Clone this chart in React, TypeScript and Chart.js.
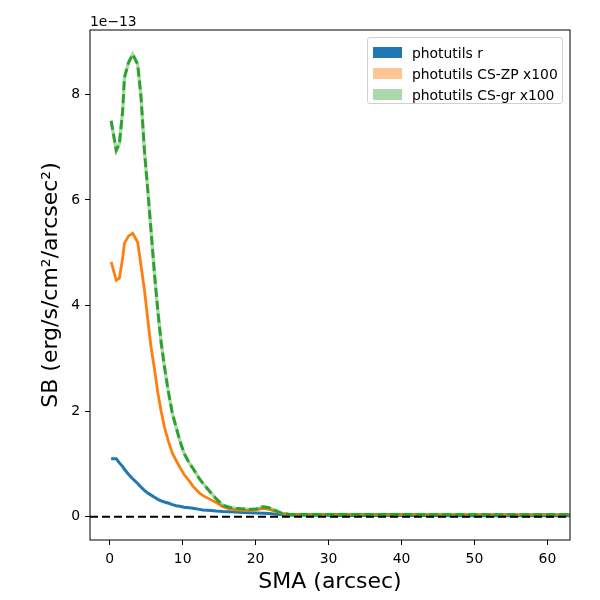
import { useEffect, useRef } from 'react';
import Chart from 'chart.js/auto';

// SMA samples (arcsec) shared by all three profiles
const SMA = [
  0.2, 0.9, 1.33, 1.78, 2.02, 2.6, 3.15, 3.84, 4.3, 4.76, 5.21, 5.68, 6.14, 6.6, 7.05, 7.5, 8.0,
  8.6, 9.1, 9.6, 10.2, 10.9, 11.4, 12.3, 12.8, 13.9, 14.6, 15.5, 16.4, 17.3, 18.3, 19.3, 20.1,
  21.0, 21.9, 22.7, 23.7, 24.5, 25.5, 27, 29, 31, 34, 37, 40, 44, 48, 52, 56, 60, 63.5
];

// surface brightness, units of 1e-13
const SB_R = [
  1.1, 1.1, 1.02, 0.95, 0.9, 0.8, 0.72, 0.63, 0.56, 0.5, 0.45, 0.41, 0.37, 0.33, 0.3, 0.28, 0.26,
  0.23, 0.21, 0.2, 0.18, 0.17, 0.16, 0.14, 0.13, 0.12, 0.11, 0.1, 0.095, 0.09, 0.08, 0.075, 0.07,
  0.065, 0.06, 0.05, 0.04, 0.035, 0.03, 0.03, 0.028, 0.026, 0.025, 0.024, 0.023, 0.022, 0.021,
  0.02, 0.02, 0.02, 0.02
];

const SB_ZP = [
  4.83, 4.48, 4.52, 4.9, 5.18, 5.32, 5.37, 5.2, 4.75, 4.3, 3.75, 3.2, 2.8, 2.35, 2.0, 1.7, 1.45,
  1.2, 1.07, 0.94, 0.8, 0.68, 0.58, 0.45, 0.4, 0.32, 0.27, 0.19, 0.15, 0.13, 0.12, 0.12, 0.13,
  0.16, 0.14, 0.1, 0.06, 0.05, 0.045, 0.045, 0.045, 0.044, 0.044, 0.043, 0.043, 0.042, 0.042,
  0.041, 0.041, 0.04, 0.04
];

const SB_GR = [
  7.5, 6.94, 7.07, 7.69, 8.32, 8.61, 8.76, 8.57, 7.94, 6.94, 6.2, 5.4, 4.6, 3.9, 3.3, 2.85, 2.4,
  1.95, 1.7, 1.45, 1.2, 1.02, 0.92, 0.72, 0.63, 0.45, 0.34, 0.22, 0.18, 0.16, 0.15, 0.14, 0.15,
  0.19, 0.17, 0.12, 0.06, 0.05, 0.045, 0.045, 0.045, 0.044, 0.044, 0.043, 0.043, 0.042, 0.042,
  0.041, 0.041, 0.04, 0.04
];

const X_TICKS = [0, 10, 20, 30, 40, 50, 60];
const Y_TICKS = [0, 2, 4, 6, 8];
const X_MIN = -2.7;
const X_MAX = 63.1;
const Y_MIN = -0.44;
const Y_MAX = 9.22;

const BLUE = '#1f77b4';
const ORANGE = '#ff7f0e';
const GREEN = '#2ca02c';
const FONT = "'DejaVu Sans', sans-serif";

const pts = (ys: number[]) => SMA.map((x, i) => ({ x, y: ys[i] }));

const frame = {
  id: 'frame',
  afterDraw(chart: any) {
    const { ctx, chartArea: a } = chart;
    ctx.save();
    ctx.strokeStyle = '#000';
    ctx.lineWidth = 1;
    ctx.strokeRect(a.left, a.top, a.right - a.left, a.bottom - a.top);
    ctx.restore();
  }
};

export default function App() {
  const canvasRef = useRef<HTMLCanvasElement | null>(null);

  useEffect(() => {
    document.body.style.margin = '0';
    let chart: Chart | null = null;
    if (canvasRef.current) {
      chart = new Chart(canvasRef.current, {
        type: 'line',
        data: {
          datasets: [
            {
              data: [{ x: X_MIN, y: 0 }, { x: X_MAX, y: 0 }],
              borderColor: '#000',
              borderWidth: 2,
              borderDash: [8, 4],
              order: 0
            },
            {
              data: pts(SB_GR),
              borderColor: GREEN,
              borderWidth: 2.8,
              borderDash: [9, 4],
              order: 1
            },
            {
              data: pts(SB_GR),
              borderColor: 'rgba(44,160,44,0.4)',
              borderWidth: 3.4,
              order: 2
            },
            {
              data: pts(SB_ZP),
              borderColor: ORANGE,
              borderWidth: 2.8,
              order: 3
            },
            {
              data: pts(SB_R),
              borderColor: BLUE,
              borderWidth: 3,
              order: 4
            }
          ]
        },
        options: {
          responsive: false,
          animation: false,
          events: [],
          layout: { padding: { top: 30, right: 30, left: 0, bottom: 0 } },
          elements: { point: { radius: 0 }, line: { tension: 0, borderCapStyle: 'butt' } },
          plugins: { legend: { display: false }, tooltip: { enabled: false } },
          scales: {
            x: {
              type: 'linear',
              min: X_MIN,
              max: X_MAX,
              afterFit: (s: any) => {
                s.height = 60;
              },
              afterBuildTicks: (s: any) => {
                s.ticks = X_TICKS.map((v) => ({ value: v }));
              },
              grid: { drawOnChartArea: false, drawTicks: true, tickLength: 5, color: '#000' },
              border: { display: false },
              ticks: {
                color: '#000',
                font: { family: FONT, size: 13.9 },
                padding: 6,
                maxRotation: 0
              },
              title: {
                display: true,
                text: 'SMA (arcsec)',
                color: '#000',
                font: { family: FONT, size: 22 },
                padding: { top: 0, bottom: 5 }
              }
            },
            y: {
              type: 'linear',
              min: Y_MIN,
              max: Y_MAX,
              afterFit: (s: any) => {
                s.width = 90;
              },
              afterBuildTicks: (s: any) => {
                s.ticks = Y_TICKS.map((v) => ({ value: v }));
              },
              grid: { drawOnChartArea: false, drawTicks: true, tickLength: 5, color: '#000' },
              border: { display: false },
              ticks: {
                color: '#000',
                font: { family: FONT, size: 13.9 },
                padding: 5
              },
              title: {
                display: true,
                text: 'SB (erg/s/cm²/arcsec²)',
                color: '#000',
                font: { family: FONT, size: 22 },
                padding: { top: 38, bottom: 0 }
              }
            }
          }
        },
        plugins: [frame]
      });
    }
    return () => {
      if (chart) chart.destroy();
    };
  }, []);

  const legendItems = [
    { label: 'photutils r', color: BLUE },
    { label: 'photutils CS-ZP x100', color: 'rgba(255,127,14,0.45)' },
    { label: 'photutils CS-gr x100', color: 'rgba(44,160,44,0.4)' }
  ];

  return (
    <div style={{ position: 'absolute', left: 0, top: 0, width: 600, height: 600, background: '#fff' }}>
      <canvas ref={canvasRef} width={600} height={600}></canvas>
      <div
        style={{
          position: 'absolute',
          left: 90,
          top: 13,
          fontFamily: FONT,
          fontSize: 13.9,
          color: '#000'
        }}
      >
        1e−13
      </div>
      <div
        style={{
          position: 'absolute',
          left: 367,
          top: 37,
          width: 196,
          height: 67,
          boxSizing: 'border-box',
          border: '1px solid #d0d0d0',
          borderRadius: 3,
          background: 'rgba(255,255,255,0.8)',
          fontFamily: FONT,
          fontSize: 13.9,
          color: '#000',
          paddingTop: 4
        }}
      >
        {legendItems.map((it) => (
          <div key={it.label} style={{ display: 'flex', alignItems: 'center', height: 21 }}>
            <span
              style={{
                display: 'inline-block',
                width: 29,
                height: 11,
                marginLeft: 5,
                marginRight: 10,
                background: it.color
              }}
            ></span>
            <span>{it.label}</span>
          </div>
        ))}
      </div>
    </div>
  );
}
